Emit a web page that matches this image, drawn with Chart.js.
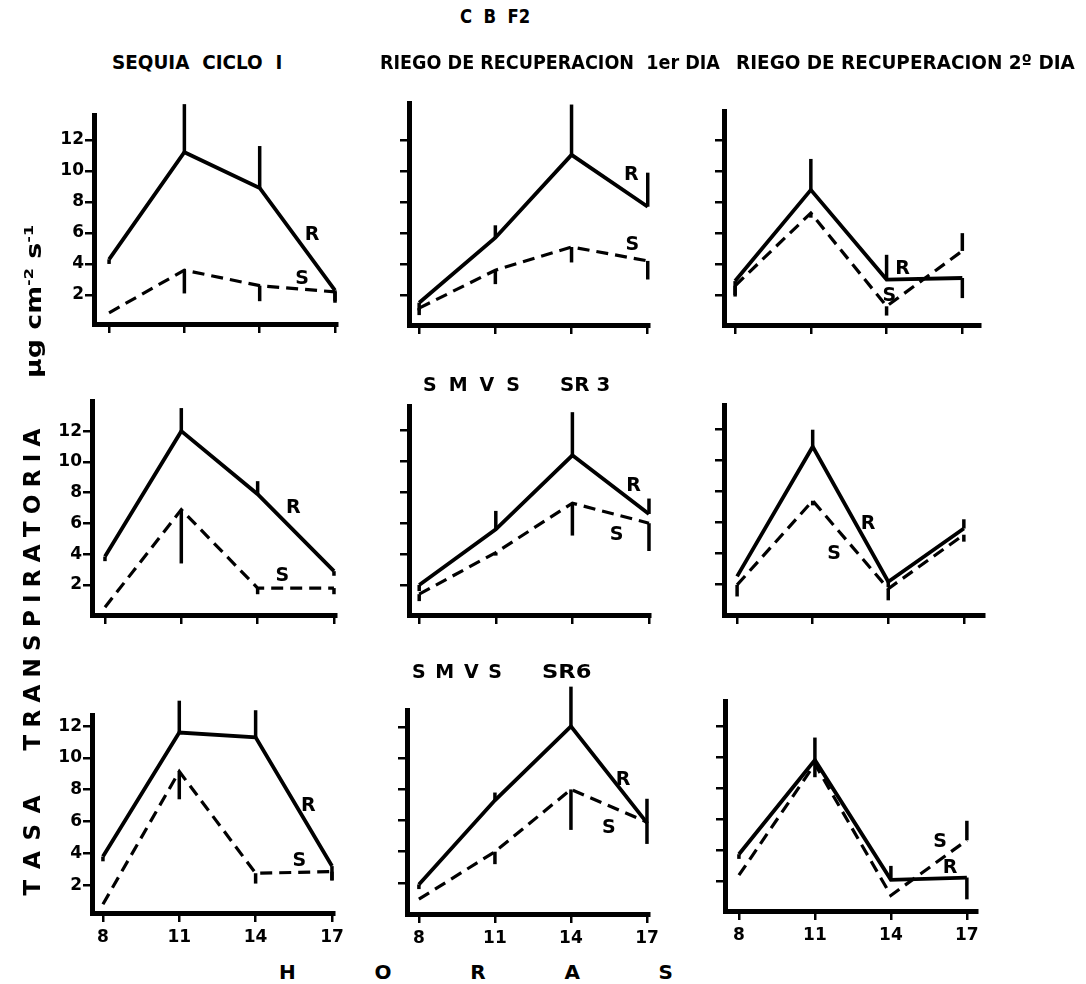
<!DOCTYPE html>
<html>
<head>
<meta charset="utf-8">
<script src="https://cdn.jsdelivr.net/npm/chart.js@4.4.1/dist/chart.umd.min.js"></script>
<style>
  body { margin: 0; background: #fff; width: 1086px; height: 984px; position: relative; overflow: hidden;
         font-family: 'DejaVu Sans', 'Liberation Sans', Arial, sans-serif; font-weight: bold; color: #000; }
  canvas { position: absolute; }
  .t { position: absolute; white-space: pre; line-height: 1; transform-origin: 0 50%; }
  .sp { position: absolute; display: flex; justify-content: space-between; line-height: 1; white-space: nowrap; }
  sup { font-size: 0.6em; vertical-align: 0.7em; }
</style>
</head>
<body>
<script>
const horas = [8, 11, 14, 17]
const marcasY = [2, 4, 6, 8, 10, 12]
const columnas = ['SEQUIA  CICLO  I', 'RIEGO DE RECUPERACION  1er DIA', 'RIEGO DE RECUPERACION 2º DIA']

// CBF2
const cbfSeqR = [4.3, 11.2, 8.9, 2.3]
const cbfSeqS = [0.85, 3.6, 2.6, 2.2]
const cbfSeqErrR = [-0.3, 3.1, 2.7, -0.7]
const cbfSeqErrS = [0, -1.5, -1.0, -0.7]

const cbfD1R = [1.5, 5.7, 11.05, 7.7]
const cbfD1S = [1.15, 3.6, 5.1, 4.2]
const cbfD1ErrR = [-0.5, 0.8, 3.25, 2.2]
const cbfD1ErrS = [-0.45, -0.9, -1.0, -1.2]

const cbfD2R = [2.9, 8.8, 3.0, 3.1]
const cbfD2S = [2.6, 7.3, 1.27, 4.85]
const cbfD2ErrR = [-0.9, 2.0, 1.6, -1.3]
const cbfD2ErrS = [-0.7, -0.3, -0.6, 1.15]

// SMVS SR3
const sr3SeqR = [3.85, 12.0, 7.9, 2.9]
const sr3SeqS = [0.55, 6.9, 1.8, 1.8]
const sr3SeqErrR = [-0.3, 1.5, 0.85, -0.3]
const sr3SeqErrS = [0, -3.5, -0.4, -0.4]

const sr3D1R = [2.0, 5.6, 10.4, 6.6]
const sr3D1S = [1.4, 4.1, 7.3, 6.0]
const sr3D1ErrR = [-0.4, 1.2, 2.8, 1.0]
const sr3D1ErrS = [-0.45, -0.2, -2.1, -1.8]

const sr3D2R = [2.5, 10.9, 2.15, 5.6]
const sr3D2S = [1.95, 7.4, 1.7, 5.2]
const sr3D2ErrR = [0, 1.1, -0.35, 0.6]
const sr3D2ErrS = [-0.75, -0.3, -0.75, -0.45]

// SMVS SR6
const sr6SeqR = [3.8, 11.6, 11.3, 3.2]
const sr6SeqS = [0.8, 9.15, 2.75, 2.85]
const sr6SeqErrR = [-0.3, 2.0, 1.7, -0.9]
const sr6SeqErrS = [0, -1.75, -0.65, -0.55]

const sr6D1R = [1.9, 7.3, 12.05, 5.85]
const sr6D1S = [0.95, 4.0, 8.0, 5.9]
const sr6D1ErrR = [-0.3, 0.5, 2.55, 1.55]
const sr6D1ErrS = [0, -0.8, -2.6, -1.4]

const sr6D2R = [3.75, 9.8, 2.1, 2.25]
const sr6D2S = [2.4, 9.55, 1.1, 4.65]
const sr6D2ErrR = [-0.3, 1.45, 0.9, -1.4]
const sr6D2ErrS = [0, -0.85, 0, 1.25]

// caja = [izq, arriba, der, abajo] del area de grafico en la pagina
const paneles = [
  { R: cbfSeqR, S: cbfSeqS, eR: cbfSeqErrR, eS: cbfSeqErrS, caja: [92, 117, 335, 326], ejeX: [7.40, 17.08], ejeY: [0.13, 13.6], posR: [16.09, 5.87], posS: [15.69, 3.03], labY: true, labX: false },
  { R: cbfD1R, S: cbfD1S, eR: cbfD1ErrR, eS: cbfD1ErrS, caja: [407, 105, 647, 327], ejeX: [7.6, 17.05], ejeY: [0.06, 14.4], posR: [16.35, 9.74], posS: [16.39, 5.2], labY: false, labX: false },
  { R: cbfD2R, S: cbfD2S, eR: cbfD2ErrR, eS: cbfD2ErrS, caja: [722, 113, 978, 327], ejeX: [7.56, 17.7], ejeY: [0.06, 13.9], posR: [14.63, 3.68], posS: [14.11, 1.94], labY: false, labX: false },
  { R: sr3SeqR, S: sr3SeqS, eR: sr3SeqErrR, eS: sr3SeqErrS, caja: [90, 403, 334, 617], ejeX: [7.49, 17.08], ejeY: [0.05, 13.96], posR: [15.4, 7.0], posS: [14.97, 2.6], labY: true, labX: false },
  { R: sr3D1R, S: sr3D1S, eR: sr3D1ErrR, eS: sr3D1ErrS, caja: [407, 408, 648, 617], ejeX: [7.6, 17.04], ejeY: [0.05, 13.6], posR: [16.4, 8.44], posS: [15.73, 5.26], labY: false, labX: false },
  { R: sr3D2R, S: sr3D2S, eR: sr3D2ErrR, eS: sr3D2ErrS, caja: [722, 407, 982, 617], ejeX: [7.48, 17.8], ejeY: [0, 13.6], posR: [13.2, 5.9], posS: [11.85, 3.96], labY: false, labX: false },
  { R: sr6SeqR, S: sr6SeqS, eR: sr6SeqErrR, eS: sr6SeqErrS, caja: [90, 717, 332, 915], ejeX: [7.57, 17.08], ejeY: [0.25, 12.7], posR: [16.07, 6.98], posS: [15.72, 3.52], labY: true, labX: true },
  { R: sr6D1R, S: sr6D1S, eR: sr6D1ErrR, eS: sr6D1ErrS, caja: [405, 712, 647, 916], ejeX: [7.53, 17.08], ejeY: [0, 13.1], posR: [16.06, 8.6], posS: [15.5, 5.52], labY: false, labX: true },
  { R: sr6D2R, S: sr6D2S, eR: sr6D2ErrR, eS: sr6D2ErrS, caja: [723, 703, 975, 913], ejeX: [7.45, 17.4], ejeY: [0.1, 13.6], posR: [16.34, 2.89], posS: [15.94, 4.5], labY: false, labX: true }
]

const fuente = "'DejaVu Sans', 'Liberation Sans', Arial, sans-serif"
Chart.defaults.font.family = fuente
Chart.defaults.font.weight = 'bold'
Chart.defaults.color = '#000'

// barras de error y letras R / S
const barras = p => ({
  id: 'barras',
  afterDatasetsDraw(chart) {
    const { ctx, scales: { x, y } } = chart
    ctx.save()
    ctx.strokeStyle = '#000'
    ctx.lineWidth = 3.5
    const errs = [p.eR, p.eS]
    chart.data.datasets.forEach((ds, k) => {
      ds.data.forEach((pt, i) => {
        const e = errs[k][i]
        if (!e) return
        const px = x.getPixelForValue(pt.x)
        ctx.beginPath()
        ctx.moveTo(px, y.getPixelForValue(pt.y))
        ctx.lineTo(px, y.getPixelForValue(pt.y + e))
        ctx.stroke()
      })
    })
    ctx.fillStyle = '#000'
    ctx.font = 'bold 19px ' + fuente
    ctx.textAlign = 'center'
    ctx.textBaseline = 'middle'
    ctx.fillText('R', x.getPixelForValue(p.posR[0]), y.getPixelForValue(p.posR[1]))
    ctx.fillText('S', x.getPixelForValue(p.posS[0]), y.getPixelForValue(p.posS[1]))
    ctx.restore()
  }
})

function panel(p) {
  const padL = 60, padT = 30, padR = 24, padB = 45
  const [izq, arr, der, aba] = p.caja
  const cv = document.createElement('canvas')
  cv.width = der - izq + padL + padR
  cv.height = aba - arr + padT + padB
  // el borde del eje queda fuera del area: se corre 2px
  cv.style.left = (izq - padL + 2) + 'px'
  cv.style.top = (arr - padT - 2) + 'px'
  document.body.appendChild(cv)
  const eje = {
    grid: { drawOnChartArea: false, drawTicks: true, tickLength: 9, lineWidth: 2.5, color: '#000' },
    border: { display: true, width: 5, color: '#000' }
  }
  new Chart(cv, {
    type: 'line',
    data: {
      datasets: [
        { data: horas.map((h, i) => ({ x: h, y: p.R[i] })), borderColor: '#000', borderWidth: 3.8, pointRadius: 0, tension: 0, clip: false },
        { data: horas.map((h, i) => ({ x: h, y: p.S[i] })), borderColor: '#000', borderWidth: 3.2, borderDash: [12, 7], pointRadius: 0, tension: 0, clip: false }
      ]
    },
    options: {
      responsive: false,
      animation: false,
      events: [],
      layout: { padding: { top: padT, right: padR, left: 0, bottom: 0 }, autoPadding: false },
      plugins: { legend: { display: false }, tooltip: { enabled: false } },
      scales: {
        x: {
          ...eje, type: 'linear', min: p.ejeX[0], max: p.ejeX[1],
          afterBuildTicks: s => { s.ticks = horas.map(v => ({ value: v })) },
          afterFit: s => { s.height = padB },
          ticks: { display: p.labX, font: { size: 17, weight: 'bold' }, padding: 5, maxRotation: 0, autoSkip: false }
        },
        y: {
          ...eje, min: p.ejeY[0], max: p.ejeY[1],
          afterBuildTicks: s => { s.ticks = marcasY.map(v => ({ value: v })) },
          afterFit: s => { s.width = padL },
          ticks: { display: p.labY, font: { size: 17, weight: 'bold' }, padding: 1 }
        }
      }
    },
    plugins: [barras(p)]
  })
}

paneles.forEach(panel)

// textos
function texto(html, x1, x2, yc, size) {
  const d = document.createElement('div')
  d.className = 't'
  d.innerHTML = html
  d.style.fontSize = size + 'px'
  document.body.appendChild(d)
  const w = d.offsetWidth, h = d.offsetHeight
  d.style.left = x1 + 'px'
  d.style.top = (yc - h / 2) + 'px'
  d.style.transform = `scaleX(${(x2 - x1) / w})`
}

function separado(letras, x1, x2, yc, size) {
  const d = document.createElement('div')
  d.className = 'sp'
  letras.split(' ').forEach(l => {
    const s = document.createElement('span')
    s.textContent = l
    d.appendChild(s)
  })
  d.style.fontSize = size + 'px'
  d.style.left = x1 + 'px'
  d.style.width = (x2 - x1) + 'px'
  document.body.appendChild(d)
  d.style.top = (yc - d.offsetHeight / 2) + 'px'
  return d
}

function vertical(letras, xc, y1, y2, size) {
  const d = separado(letras, 0, y2 - y1, 0, size)
  const h = d.offsetHeight
  d.style.left = (xc - (y2 - y1) / 2) + 'px'
  d.style.top = ((y1 + y2) / 2 - h / 2) + 'px'
  d.style.transformOrigin = '50% 50%'
  d.style.transform = 'rotate(-90deg)'
}

function verticalTexto(html, xc, y1, y2, size) {
  const d = document.createElement('div')
  d.className = 't'
  d.innerHTML = html
  d.style.fontSize = size + 'px'
  document.body.appendChild(d)
  const w = d.offsetWidth, h = d.offsetHeight
  d.style.left = (xc - w / 2) + 'px'
  d.style.top = ((y1 + y2) / 2 - h / 2) + 'px'
  d.style.transformOrigin = '50% 50%'
  d.style.transform = `rotate(-90deg) scaleX(${(y2 - y1) / w})`
}

texto('C  B  F2', 460, 530, 16, 20)
texto(columnas[0], 112, 282, 62, 20)
texto(columnas[1], 380, 720, 62, 20)
texto(columnas[2], 736, 1075, 62, 20)
separado('S M V S', 423, 520, 384, 19)
texto('SR 3', 560, 610, 384, 19)
separado('S M V S', 412, 502, 671, 19)
texto('SR6', 542, 592, 671, 19)
separado('H O R A S', 279, 673, 972, 20)
vertical('T A S A', 32, 795, 895, 23)
vertical('T R A N S P I R A T O R I A', 32, 428, 750, 23)
verticalTexto('&mu;g cm<sup>-2</sup> s<sup>-1</sup>', 34, 225, 378, 21)
</script>
</body>
</html>
